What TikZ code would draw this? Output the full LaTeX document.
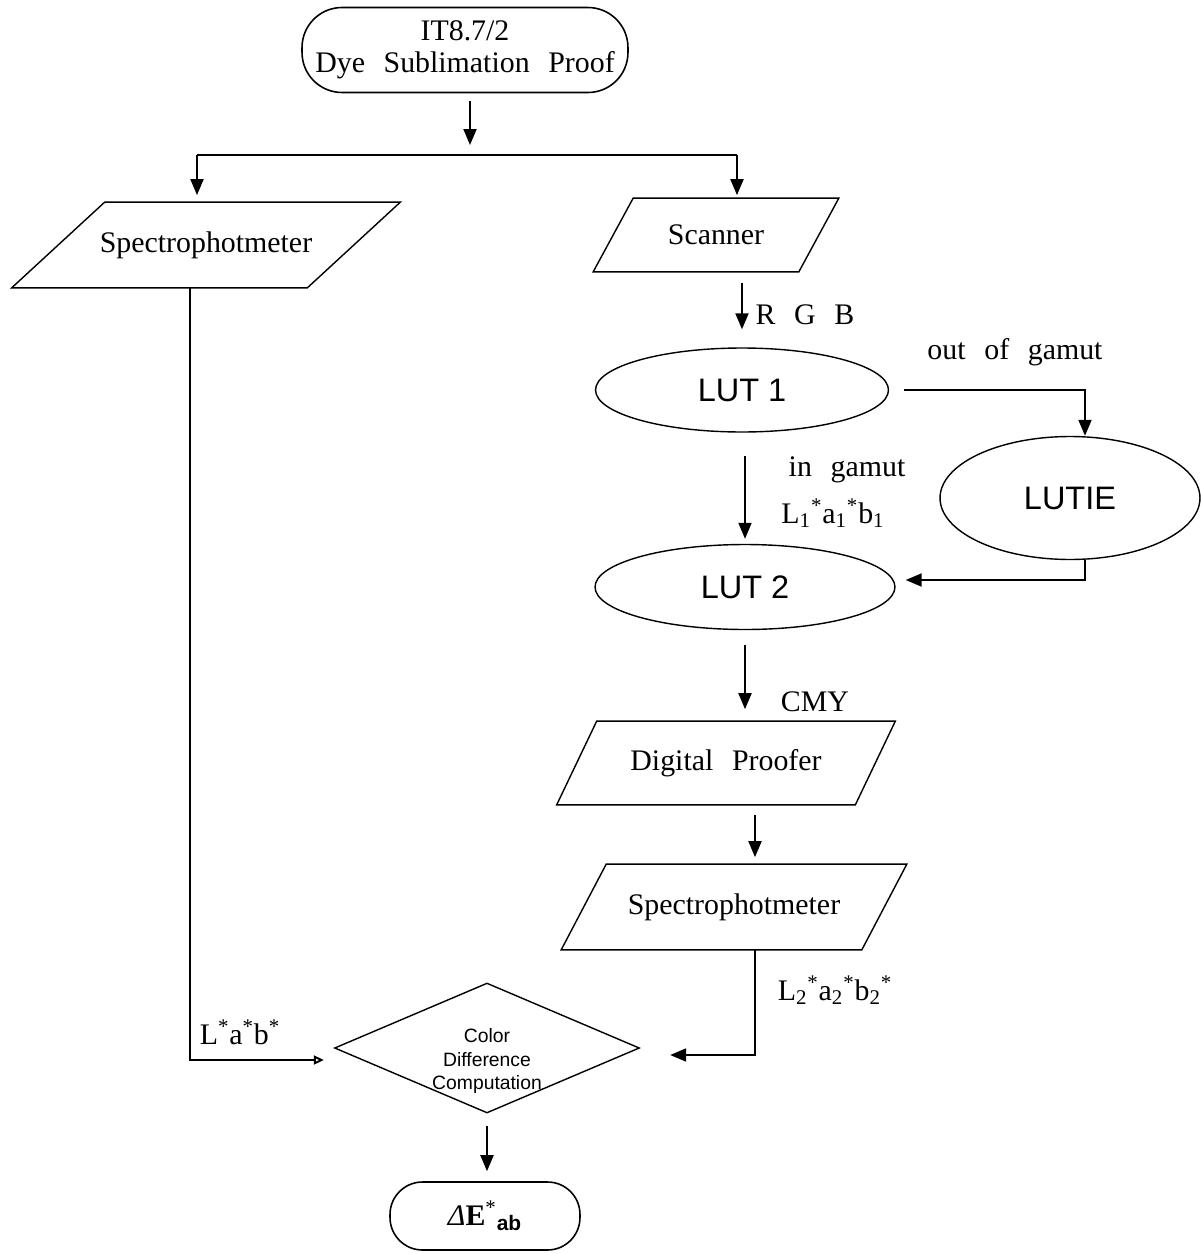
\documentclass[tikz,border=0pt]{standalone}
\usepackage{fontspec}
\setmainfont{Liberation Serif}[WordSpace=2.5]
\setsansfont{Liberation Sans}
\usetikzlibrary{positioning,arrows.meta,shapes.geometric}

\begin{document}
\begin{tikzpicture}[x=0.02cm,y=-0.02cm,>={Triangle[length=3.2mm,width=2.6mm]},
  term/.style={draw,line width=0.9pt,inner sep=0pt,align=center,font=\fontsize{17}{18}\selectfont},
  io/.style={inner sep=0pt,font=\fontsize{17}{18}\selectfont,
    append after command={\pgfextra{\draw[line width=0.8pt]
      ([xshift=#1]\tikzlastnode.north west) -- ([xshift=#1]\tikzlastnode.north east) --
      ([xshift=-#1]\tikzlastnode.south east) -- ([xshift=-#1]\tikzlastnode.south west) -- cycle;}}},
  lut/.style={draw,ellipse,inner sep=0pt,line width=0.8pt,font=\sffamily\fontsize{18.5}{20}\selectfont},
  decision/.style={draw,diamond,inner sep=0pt,line width=0.8pt,minimum width=6.1cm,minimum height=2.6cm},
  lbl/.style={inner sep=0pt,font=\fontsize{17}{18}\selectfont},
  wire/.style={line width=1.1pt},
  arr/.style={wire,->}]
\useasboundingbox (0,0) rectangle (1200,1254);
\node[term,minimum width=6.52cm,minimum height=1.7cm,rounded corners=0.8cm] (proof) at (465,50) {IT8.7/2\\Dye Sublimation Proof};
\node[io=0.93cm,minimum width=5.9cm,minimum height=1.7cm] (spec1) at (206,245) {Spectrophotmeter};
\node[io=0.4cm,minimum width=4.1cm,minimum height=1.46cm] (scan) at (716,235) {Scanner};
\node[lut,minimum width=5.86cm,minimum height=1.68cm] (lut1) at (742,390) {LUT 1};
\node[lut,minimum width=5.2cm,minimum height=2.46cm] (lutie) at (1070,498) {LUTIE};
\node[lut,minimum width=6cm,minimum height=1.7cm] (lut2) at (745,587) {LUT 2};
\node[io=0.4cm,minimum width=5.96cm,minimum height=1.66cm] (dp) at (726,763) {Digital Proofer};
\node[io=0.45cm,minimum width=6cm,minimum height=1.7cm] (spec2) at (734,907) {Spectrophotmeter};
\node[decision,label={[font=\sffamily\fontsize{11}{13.6}\selectfont,align=center,yshift=-0.26cm]center:Color\\Difference\\Computation}] (cdc) at (487,1048) {};
\node[term,minimum width=3.8cm,minimum height=1.36cm,rounded corners=0.65cm] (fin) at (485,1216) {{\itshape Δ}\textbf{E}\textsuperscript{*}\textsubscript{\sffamily\bfseries ab}};

\coordinate (fork) at (470,155);
\coordinate (forkl) at (197,155);
\coordinate (forkr) at (737,155);
\draw[arr,shorten <=0.16cm,shorten >=0.2cm] (proof.south -| fork) -- (fork);
\draw[wire] (forkl) -- (forkr);
\draw[arr,shorten >=0.14cm] (forkl) -- (forkl |- spec1.north);
\draw[arr,shorten >=0.06cm] (forkr) -- (forkr |- scan.north);

\draw[wire,-{Triangle[open,length=2mm,width=1.8mm]}] ([xshift=-0.32cm]spec1.south) |- ([shift={(-10,12)}]cdc.west);
\node[lbl] (lab0) at (240,1032) {L\textsuperscript{*}a\textsuperscript{*}b\textsuperscript{*}};

\draw[arr,shorten <=0.22cm,shorten >=0.36cm] (scan.south -| lut1.north) -- (lut1.north);
\node[lbl] (rgb) at (805,315) {R G B};
\draw[arr] ([xshift=0.3cm]lut1.east) -| ([xshift=0.3cm]lutie.north);
\node[lbl] (oog) at (1015,352) {out of gamut};
\draw[arr,shorten <=0.46cm,shorten >=0.1cm] (lut1.south -| lut2.north) -- (lut2.north);
\node[lbl] (ing) at (847,470) {in gamut};
\node[lbl] (lab1) at (833,513) {L\textsubscript{1}\textsuperscript{*}a\textsubscript{1}\textsuperscript{*}b\textsubscript{1}};
\draw[arr] ([xshift=0.3cm]lutie.south) |- ([shift={(10,-7)}]lut2.east);

\draw[arr,shorten <=0.3cm,shorten >=0.24cm] (lut2.south) -- (lut2.south |- dp.north);
\node[lbl] (cmy) at (815,702) {CMY};
\coordinate (dpo) at ([xshift=0.58cm]dp.south);
\draw[arr,shorten <=0.2cm,shorten >=0.14cm] (dpo) -- (dpo |- spec2.north);
\draw[arr] ([xshift=0.42cm]spec2.south) |- ([shift={(30,7)}]cdc.east);
\node[lbl] (lab2) at (835,990) {L\textsubscript{2}\textsuperscript{*}a\textsubscript{2}\textsuperscript{*}b\textsubscript{2}\textsuperscript{*}};

\draw[arr,shorten <=0.24cm,shorten >=0.2cm] (cdc.south) -- (cdc.south |- fin.north);
\end{tikzpicture}
\end{document}
